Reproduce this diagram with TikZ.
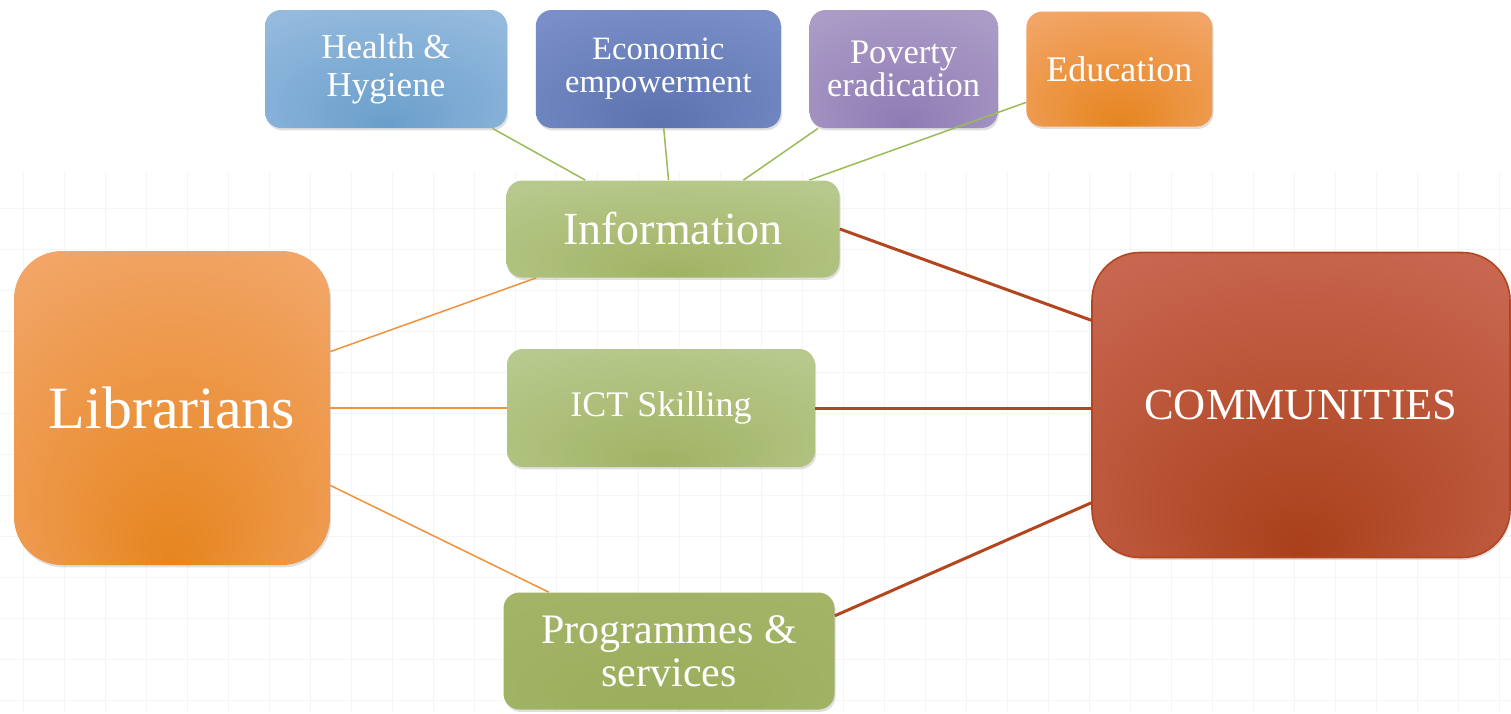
\documentclass[tikz,border=0pt]{standalone}
\usepackage{fontspec}
\setmainfont{Liberation Serif}
\usetikzlibrary{
  positioning,  % Function "of" (e.g. [right=of x])
  shadows,      % Style "drop shadow"
}
\definecolor{skyin}{HTML}{6A9FCB}
\definecolor{skyout}{HTML}{95BADE}
\definecolor{indigoin}{HTML}{5B72AE}
\definecolor{indigoout}{HTML}{7A8FC9}
\definecolor{lilacin}{HTML}{8F7BB4}
\definecolor{lilacout}{HTML}{AB9CC7}
\definecolor{tangoin}{HTML}{E6851F}
\definecolor{tangoout}{HTML}{F2A566}
\definecolor{olivein}{HTML}{A0B363}
\definecolor{oliveout}{HTML}{B8C98D}
\definecolor{mossin}{HTML}{9AAE5C}
\definecolor{mossout}{HTML}{A3B467}
\definecolor{rustin}{HTML}{A9401A}
\definecolor{rustout}{HTML}{C86650}
\definecolor{rustline}{HTML}{B3461E}
\definecolor{leafline}{HTML}{9BBB59}
\definecolor{peelline}{HTML}{F0913C}
\colorlet{boxin}{white}
\colorlet{boxout}{white}
% Radial glow at the bottom of a box, redone when boxin/boxout change
\pgfdeclareradialshading[boxin,boxout]{glow}{\pgfpoint{0bp}{-24bp}}{%
  color(0bp)=(boxin); color(38bp)=(boxout); color(60bp)=(boxout)}
\tikzset{
  semithick,
  grid line/.style={
    draw=black!4,
    line width=0.5pt
  },
  my box/.style 2 args={
    /utils/exec={\colorlet{boxin}{#1}\colorlet{boxout}{#2}},
    shading=glow,
    text=white,
    inner sep=0pt,
    align=center,
    rectangle,
    rounded corners=8pt,
    drop shadow={opacity=0.25,shadow xshift=0.6pt,shadow yshift=-1.2pt}
  },
  my big box/.style={
    rounded corners=24pt
  },
  topic/.style={
    minimum width=121pt,
    minimum height=59pt,
    font=\fontsize{17.5}{19}\selectfont
  },
  hub/.style={
    minimum width=160pt,
    font=\fontsize{21}{21.5}\selectfont
  },
  to topic/.style={
    draw=leafline,
    line width=0.75pt
  },
  to hub/.style={
    draw=peelline,
    line width=0.75pt
  },
  to people/.style={
    draw=rustline,
    line width=1.5pt
  }
}
\begin{document}
\begin{tikzpicture}[x=0.5pt,y=-0.5pt,node distance=14pt]
\fill[white] (0,0) rectangle (1511,713);
\useasboundingbox (0,0) rectangle (1511,713);
\begin{scope}[shift={(23,208)}]
  \draw[grid line,step=20.5pt] (-23,-36) grid (1488,505);
\end{scope}
% topic row
\node[my box={skyin}{skyout},topic] (health) at (386,69) {Health \&\\Hygiene};
\node[my box={indigoin}{indigoout},topic,minimum width=122.5pt,
  font=\fontsize{16.3}{16.5}\selectfont] (econ) [right=of health] {Economic\\empowerment};
\node[my box={lilacin}{lilacout},topic,minimum width=94pt,
  font=\fontsize{17.2}{16.5}\selectfont] (poverty) [right=of econ] {Poverty\\eradication};
\node[my box={tangoin}{tangoout},topic,minimum width=93pt,minimum height=57.5pt,
  font=\fontsize{18}{18}\selectfont] (edu) [right=of poverty] {Education};
% middle column
\node[my box={olivein}{oliveout},hub,minimum width=166.5pt,minimum height=48.5pt,
  font=\fontsize{23}{24}\selectfont] (info) at (673,229) {Information};
\node[my box={olivein}{oliveout},hub,minimum width=154pt,minimum height=59pt,
  font=\fontsize{18}{19}\selectfont] (ict) at (661,408) {ICT Skilling};
\node[my box={mossin}{mossout},hub,minimum width=165.5pt,minimum height=58.5pt] (prog)
  at (669,651) {Programmes \&\\services};
% the two ends
\node[my box={tangoin}{tangoout},my big box,minimum width=158pt,minimum height=157pt,
  font=\fontsize{30}{32}\selectfont] (lib) at (172,408) {Librarians};
\node[my box={rustin}{rustout},my big box,draw=rustline,line width=0.8pt,
  minimum width=209pt,minimum height=152.5pt,
  font=\fontsize{22.2}{24}\selectfont] (comm) at (1301,405) {COMMUNITIES};
\path[to topic]
  (info) edge (health)
  (info) edge (econ)
  (info) edge (poverty)
  (info) edge (edu);
\path[to hub]
  (lib) edge (info)
  (lib) edge (ict)
  (lib) edge (prog);
\path[to people]
  (info.east) edge (comm.158)
  (ict.east) edge (ict.east -| comm.west)
  (prog.12) edge (comm.205);
\end{tikzpicture}
\end{document}
